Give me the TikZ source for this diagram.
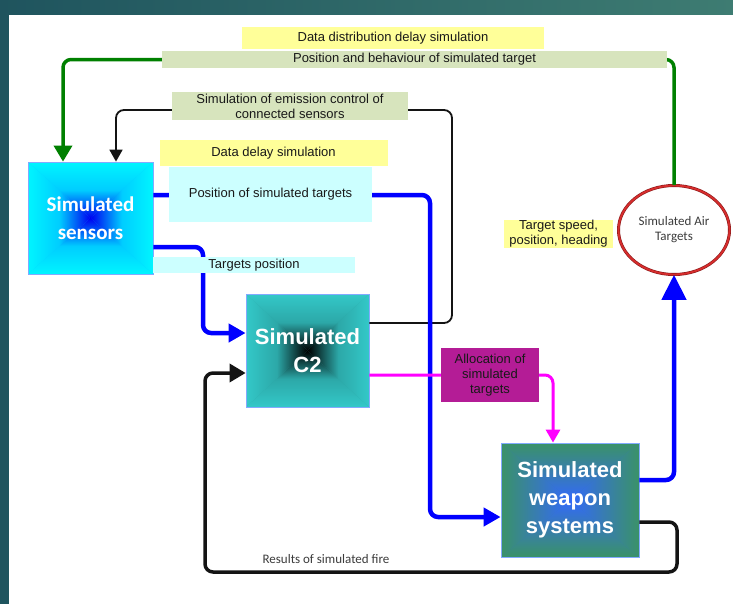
\documentclass[tikz,border=0pt]{standalone}
\usepackage{fontspec}
\setmainfont{Liberation Sans}
\newfontfamily\carl{Carlito}
\usetikzlibrary{arrows.meta,shapes.geometric,calc}

\definecolor{ylw}{RGB}{255,255,153}
\definecolor{sage}{RGB}{215,228,189}
\definecolor{lcyan}{RGB}{204,255,255}
\definecolor{purp}{RGB}{180,28,150}
\definecolor{txt}{RGB}{25,25,25}
\definecolor{txtgray}{RGB}{60,60,60}
\definecolor{bgL}{RGB}{31,84,94}
\definecolor{bgR}{RGB}{62,124,114}
\definecolor{bord}{RGB}{130,170,255}
\definecolor{gline}{RGB}{0,128,0}
\definecolor{bline}{RGB}{0,0,255}
\definecolor{mline}{RGB}{255,0,255}
\definecolor{kline}{RGB}{20,20,20}
\definecolor{redc}{RGB}{215,45,45}
\definecolor{redd}{RGB}{140,25,25}
% sensors
\definecolor{sOut}{RGB}{0,245,255}
\definecolor{sMid}{RGB}{0,205,255}
\definecolor{sIn}{RGB}{0,0,240}
% C2
\definecolor{cOut}{RGB}{51,200,200}
\definecolor{cMid}{RGB}{44,168,168}
\definecolor{cIn}{RGB}{0,0,0}
% weapon
\definecolor{wOut}{RGB}{58,146,104}
\definecolor{wMid}{RGB}{56,125,175}
\definecolor{wIn}{RGB}{50,105,250}

% rectangle ("path") gradient: x1 y1 x2 y2 outer mid inner
\newcommand\gradbox[7]{%
  \fill[#6] (#1,#2) rectangle (#3,#4);
  \shade[top color=#5, bottom color=#7, middle color=#6]
    (#1,#2) -- (#3,#2) -- ({(#1+#3)/2},{(#2+#4)/2}) -- cycle;
  \shade[top color=#7, bottom color=#5, middle color=#6]
    (#1,#4) -- (#3,#4) -- ({(#1+#3)/2},{(#2+#4)/2}) -- cycle;
  \shade[left color=#5, right color=#7, middle color=#6]
    (#1,#2) -- (#1,#4) -- ({(#1+#3)/2},{(#2+#4)/2}) -- cycle;
  \shade[left color=#7, right color=#5, middle color=#6]
    (#3,#2) -- (#3,#4) -- ({(#1+#3)/2},{(#2+#4)/2}) -- cycle;
}

\begin{document}
\begin{tikzpicture}[x=1pt,y=-1pt,
  lbl/.style={inner sep=0pt, text=txt, font=\fontsize{13}{15}\selectfont, align=center},
  mainbox/.style={draw=bord, line width=0.8pt, inner sep=0pt, align=center, text=white},
  conn/.style={rounded corners=8pt, line join=round},
  gconn/.style={conn, draw=gline, line width=3.5pt, -{Triangle[length=16pt,width=18pt]}},
  kthin/.style={conn, draw=kline, line width=1.8pt, -{Triangle[length=12pt,width=13pt]}},
  bconn/.style={conn, draw=bline, line width=4.5pt, -{Triangle[length=17pt,width=18pt]}},
  bbig/.style={conn, draw=bline, line width=4.5pt, -{Triangle[length=25pt,width=24pt]}},
  mconn/.style={conn, draw=mline, line width=3pt, -{Triangle[length=13pt,width=14pt]}},
  kthick/.style={conn, draw=kline, line width=3.5pt, -{Triangle[length=16pt,width=18pt]}}
]
\useasboundingbox (0,0) rectangle (733,603);
% background
\shade[left color=bgL, right color=bgR] (-2,-2) rectangle (735,605);
\fill[white] (9,15) rectangle (740,610);

% gradient fills
\gradbox{28}{162}{153}{274}{sOut}{sMid}{sIn}
\gradbox{246}{294}{369}{407}{cOut}{cMid}{cIn}
\gradbox{501}{443}{639}{557}{wOut}{wMid}{wIn}

% main nodes
\node[mainbox, minimum width=125pt, minimum height=112pt,
  font=\carl\bfseries\fontsize{21}{28}\selectfont] (sens) at (90.5,218) {Simulated\\sensors};
\node[mainbox, minimum width=123pt, minimum height=113pt,
  font=\bfseries\fontsize{22}{28}\selectfont] (c2) at (307.5,350.5) {Simulated\\C2};
\node[mainbox, minimum width=138pt, minimum height=114pt,
  font=\bfseries\fontsize{22}{28}\selectfont] (weap) at (570,500) {Simulated\\weapon\\systems};
\node[ellipse, draw=redd, line width=0.6pt, double=redc, double distance=1.8pt, fill=white,
  minimum width=111pt, minimum height=89pt,
  inner sep=0pt, align=center, text=txtgray, font=\carl\fontsize{13}{15}\selectfont]
  (air) at (674,230) {Simulated Air\\Targets};

% helper coordinates
\coordinate (g1) at (63,59.5);
\coordinate (k1) at (452,110);
\coordinate (k2) at (116,110);
\coordinate (b1) at (430,300);
\coordinate (b2) at (203,290);
\coordinate (r1) at (677,572);
\coordinate (r2) at (205,450);

% connectors
\draw[gconn] (air.north) |- (g1) -- (g1 |- sens.north);
\draw[kthin] ([yshift=27.5pt]c2.east) -| (k1) -- (k2) -- (k2 |- sens.north);
\draw[bconn] ([yshift=23pt]sens.east) -| (b1) |- ([yshift=-17pt]weap.west);
\draw[bconn] ([yshift=-29pt]sens.east) -| (b2) |- ([yshift=17.5pt]c2.west);
\draw[bbig] ([yshift=20pt]weap.east) -| (air.south);
\draw[mconn] ([yshift=-24.5pt]c2.east) -| ([xshift=-17pt]weap.north);
\draw[kthick] ([yshift=-22pt]weap.east) -| (r1) -| (r2) |- ([yshift=-22.5pt]c2.west);

% labels
\node[lbl, fill=ylw, minimum width=302pt, minimum height=22pt] (ddd) at (393,38) {Data distribution delay simulation};
\node[lbl, fill=sage, minimum width=505pt, minimum height=17pt] (pbt) at (414.5,59.5) {Position and behaviour of simulated target};
\node[lbl, fill=sage, minimum width=236pt, minimum height=28pt] (emc) at (290,106) {Simulation of emission control of\\connected sensors};
\node[lbl, fill=ylw, minimum width=228pt, minimum height=26pt] (dds) at (273.5,153) {Data delay simulation};
\node[lbl, fill=lcyan, minimum width=203pt, minimum height=55pt] (pst) at (270.5,194.5) {Position of simulated targets};
\node[lbl, fill=lcyan, minimum width=202pt, minimum height=16pt] (tp) at (254,265) {Targets position};
\node[lbl, fill=purp, minimum width=98pt, minimum height=54pt] (alloc) at (490,375) {Allocation of\\simulated\\targets};
\node[lbl, fill=ylw, minimum width=109pt, minimum height=28pt] (tsp) at (558.5,234) {Target speed,\\position, heading};
\node[lbl, text=txtgray, font=\carl\fontsize{13}{15}\selectfont] (rsf) at (326,559) {Results of simulated fire};
\end{tikzpicture}
\end{document}
